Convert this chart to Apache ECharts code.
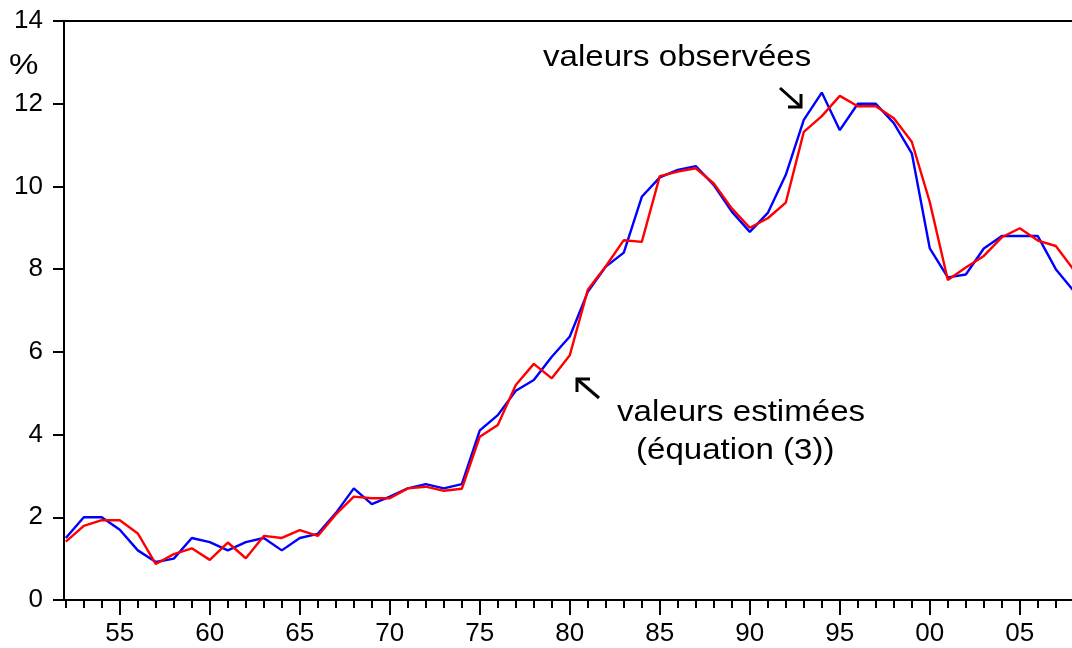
<!DOCTYPE html>
<html>
<head>
<meta charset="utf-8">
<script src="https://cdn.jsdelivr.net/npm/echarts@6/dist/echarts.min.js"></script>
<style>
  html, body { margin: 0; padding: 0; background: #fff; }
  #main { width: 1072px; height: 648px; }
</style>
</head>
<body>
<div id="main"></div>
<script>
// années 1952-2008
var years = [1952, 1953, 1954, 1955, 1956, 1957, 1958, 1959, 1960, 1961,
  1962, 1963, 1964, 1965, 1966, 1967, 1968, 1969, 1970, 1971,
  1972, 1973, 1974, 1975, 1976, 1977, 1978, 1979, 1980, 1981,
  1982, 1983, 1984, 1985, 1986, 1987, 1988, 1989, 1990, 1991,
  1992, 1993, 1994, 1995, 1996, 1997, 1998, 1999, 2000, 2001,
  2002, 2003, 2004, 2005, 2006, 2007, 2008];

// valeurs observées (bleu)
var observed = [1.5, 2.0, 2.0, 1.7, 1.2, 0.92, 1.0, 1.5, 1.4, 1.2,
  1.4, 1.5, 1.2, 1.5, 1.6, 2.1, 2.7, 2.32, 2.5, 2.7,
  2.8, 2.7, 2.8, 4.1, 4.47, 5.06, 5.32, 5.88, 6.37, 7.45,
  8.06, 8.4, 9.75, 10.22, 10.4, 10.49, 10.03, 9.39, 8.9, 9.36,
  10.28, 11.61, 12.27, 11.36, 12.0, 12.0, 11.53, 10.8, 8.5, 7.8,
  7.87, 8.5, 8.8, 8.8, 8.8, 8.0, 7.47];

// valeurs estimées, équation (3) (rouge)
var estimated = [1.41, 1.79, 1.93, 1.93, 1.61, 0.87, 1.11, 1.25, 0.97, 1.39,
  1.01, 1.55, 1.5, 1.69, 1.55, 2.07, 2.5, 2.46, 2.46, 2.7,
  2.74, 2.64, 2.69, 3.95, 4.23, 5.2, 5.71, 5.36, 5.92, 7.5,
  8.07, 8.7, 8.66, 10.25, 10.36, 10.44, 10.07, 9.47, 9.0, 9.23,
  9.61, 11.32, 11.7, 12.19, 11.94, 11.94, 11.65, 11.08, 9.62, 7.74,
  8.04, 8.32, 8.77, 8.99, 8.69, 8.56, 7.98];

// graduations
var majorTicks = [1955, 1960, 1965, 1970, 1975, 1980, 1985, 1990, 1995, 2000, 2005];
var minorTicks = years.slice(0, years.length - 1);

var pairs = function (vals) {
  var res = [];
  for (var i = 0; i < years.length; i++) {
    res.push([years[i], vals[i]]);
  }
  return res;
};

var font = 'Liberation Sans, Arial, sans-serif';
var xMin = 1951.9, xMax = 2007.9;

var chart = echarts.init(document.getElementById('main'));
chart.setOption({
  backgroundColor: '#fff',
  animation: false,
  grid: { left: 64, right: 0, top: 21, bottom: 48 },
  xAxis: [{
    type: 'value', position: 'bottom', min: xMin, max: xMax,
    axisLine: { show: true, lineStyle: { color: '#000', width: 2 } },
    axisTick: { show: true, customValues: majorTicks, length: 15, lineStyle: { color: '#000', width: 2 } },
    axisLabel: {
      customValues: majorTicks, margin: 21, color: '#000', fontSize: 26, fontFamily: font,
      formatter: function (v) { return String(v).slice(2); }
    },
    splitLine: { show: false }
  }, {
    type: 'value', position: 'bottom', min: xMin, max: xMax,
    axisLine: { show: false },
    axisTick: { show: true, customValues: minorTicks, length: 8, lineStyle: { color: '#000', width: 2 } },
    axisLabel: { show: false },
    splitLine: { show: false }
  }, {
    type: 'value', position: 'top', min: xMin, max: xMax,
    axisLine: { show: true, lineStyle: { color: '#000', width: 2 } },
    axisTick: { show: false },
    axisLabel: { show: false },
    splitLine: { show: false }
  }],
  yAxis: {
    type: 'value', min: 0, max: 14, interval: 2,
    axisLine: { show: true, lineStyle: { color: '#000', width: 2 } },
    axisTick: { show: true, length: 11, lineStyle: { color: '#000', width: 2 } },
    axisLabel: { margin: 21, color: '#000', fontSize: 26, fontFamily: font },
    splitLine: { show: false }
  },
  series: [{
    name: 'valeurs observées',
    type: 'line',
    data: pairs(observed),
    showSymbol: false,
    lineStyle: { color: '#0000ff', width: 2.4 }
  }, {
    name: 'valeurs estimées',
    type: 'line',
    data: pairs(estimated),
    showSymbol: false,
    lineStyle: { color: '#ff0000', width: 2.4 }
  }],
  graphic: [
    { type: 'text', x: 9, y: 66, scaleX: 1.14,
      style: { text: '%', font: '29px ' + font, fill: '#000', verticalAlign: 'middle' } },
    { type: 'text', x: 543, y: 58, scaleX: 1.14,
      style: { text: 'valeurs observées', font: '29px ' + font, fill: '#000', verticalAlign: 'middle' } },
    { type: 'text', x: 617, y: 413, scaleX: 1.14,
      style: { text: 'valeurs estimées', font: '29px ' + font, fill: '#000', verticalAlign: 'middle' } },
    { type: 'text', x: 636, y: 451, scaleX: 1.14,
      style: { text: '(équation (3))', font: '29px ' + font, fill: '#000', verticalAlign: 'middle' } },
    // flèche vers la courbe observée
    { type: 'line', shape: { x1: 780, y1: 88, x2: 800, y2: 106 }, style: { stroke: '#000', lineWidth: 3 } },
    { type: 'polyline', shape: { points: [[801, 94], [801, 107], [788, 107]] }, style: { stroke: '#000', lineWidth: 3, fill: null } },
    // flèche vers la courbe estimée
    { type: 'line', shape: { x1: 578, y1: 380, x2: 599, y2: 398 }, style: { stroke: '#000', lineWidth: 3 } },
    { type: 'polyline', shape: { points: [[577, 392], [577, 379], [590, 379]] }, style: { stroke: '#000', lineWidth: 3, fill: null } }
  ]
});
</script>
</body>
</html>
